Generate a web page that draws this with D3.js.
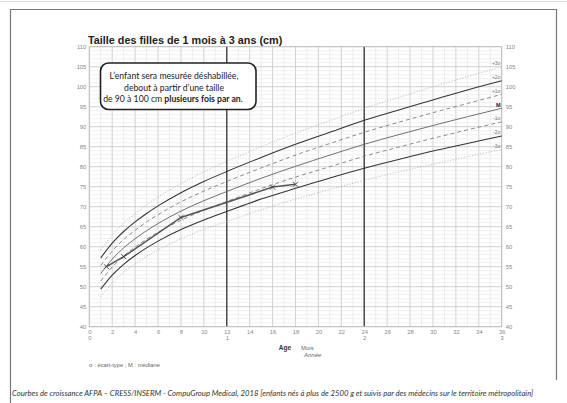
<!DOCTYPE html>
<html><head><meta charset="utf-8">
<script src="https://cdn.jsdelivr.net/npm/d3@7"></script>
<style>
html,body{margin:0;padding:0;background:#fff;}
svg{display:block;}
</style></head>
<body>
<svg id="c" width="567" height="403"></svg>
<script>
// ---- data ----
const months = [1,2,3,4,5,6,8,10,12,15,18,21,24,27,30,33,36];
const plus3 = [59.2,62.9,65.9,68.3,70.5,72.4,75.8,78.7,81.3,85.0,88.4,91.5,94.6,97.3,100.0,102.5,105.0];
const plus2 = [57.2,60.9,63.8,66.2,68.3,70.2,73.5,76.3,78.8,82.3,85.6,88.6,91.6,94.2,96.7,99.2,101.5];
const plus1 = [55.3,58.9,61.8,64.1,66.2,68.0,71.2,73.9,76.3,79.7,82.9,85.8,88.6,91.1,93.5,95.8,98.1];
const median = [53.3,56.9,59.7,62.0,64.0,65.8,68.9,71.5,73.8,77.1,80.1,82.9,85.6,88.0,90.3,92.5,94.6];
const minus1 = [51.4,54.9,57.7,59.9,61.9,63.6,66.6,69.1,71.3,74.5,77.4,80.0,82.6,84.9,87.1,89.2,91.2];
const minus2 = [49.4,52.9,55.6,57.8,59.7,61.4,64.3,66.7,68.8,71.9,74.6,77.2,79.6,81.8,83.9,85.8,87.7];
const minus3 = [47.5,50.9,53.6,55.7,57.6,59.2,62.0,64.3,66.3,69.2,71.9,74.3,76.6,78.7,80.6,82.5,84.3];
const curveLabels = ["+3σ","+2σ","+1σ","M","-1σ","-2σ","-3σ"];
const childMonths = [1.5,3,8,16,18];
const childHeights = [55.0,57.5,67.3,74.9,75.6];
const yTicks = d3.range(40,111,5);
const xTicks = d3.range(0,37,2);
const yearTicks = [0,12,24,36];

const svg = d3.select("#c");
const x = d3.scaleLinear([0,36],[89.3,501.7]);
const y = d3.scaleLinear([40,110],[326.7,46.7]);

// page frame
svg.append("line").attr("x1",0).attr("x2",567).attr("y1",1.5).attr("y2",1.5).attr("stroke","#ddd").attr("stroke-width",1);
svg.append("path").attr("d","M10.5,410 V9.5 H556.5 V380").attr("fill","none").attr("stroke","#777").attr("stroke-width",1.2);

// grid
const g = svg.append("g");
d3.range(0,37,1).filter(m=>m!==12&&m!==24).forEach(m=>{
  let col="#e3e3e3", w=0.6;
  if(m%2===0){col="#c4c4c4"; w=0.8;}
  g.append("line").attr("x1",x(m)).attr("x2",x(m)).attr("y1",y(40)).attr("y2",y(110)).attr("stroke",col).attr("stroke-width",w);
});
d3.range(40,111,1).forEach(v=>{
  let col="#e6e6e6", w=0.6;
  if(v%5===0){col="#c4c4c4"; w=0.8;}
  g.append("line").attr("x1",x(0)).attr("x2",x(36)).attr("y1",y(v)).attr("y2",y(v)).attr("stroke",col).attr("stroke-width",w);
});
[12,24].forEach(m=>{
  g.append("line").attr("x1",x(m)).attr("x2",x(m)).attr("y1",y(40)).attr("y2",y(110)).attr("stroke","#4a4a4a").attr("stroke-width",1.5);
});
g.append("rect").attr("x",x(0)).attr("y",y(110)).attr("width",x(36)-x(0)).attr("height",y(40)-y(110)).attr("fill","none").attr("stroke","#bbb").attr("stroke-width",0.8);

// axes
const tickFont = g => { g.select(".domain").remove(); g.selectAll("text").attr("fill","#888").style("font-family","Liberation Sans, Arial, sans-serif").style("font-size","5.8px"); };
svg.append("g").attr("transform",`translate(${x(0)-1},0)`).call(d3.axisLeft(y).tickValues(yTicks).tickSize(0).tickPadding(2)).call(tickFont);
svg.append("g").attr("transform",`translate(${x(36)+2},0)`).call(d3.axisRight(y).tickValues(yTicks).tickSize(0).tickPadding(2)).call(tickFont);
svg.append("g").attr("transform",`translate(0,${y(40)+1})`).call(d3.axisBottom(x).tickValues(xTicks).tickSize(0).tickPadding(2)).call(tickFont);
svg.append("g").attr("transform",`translate(0,${y(40)+7})`).call(d3.axisBottom(x).tickValues(yearTicks).tickFormat(d=>d/12).tickSize(0).tickPadding(2)).call(tickFont);

// curves
const line = d3.line().x(d=>x(d[0])).y(d=>y(d[1])).curve(d3.curveMonotoneX);
const series = [
  {v:plus3, stroke:"#b0b0b0", w:0.9, dash:"1,1.8"},
  {v:plus2, stroke:"#333", w:1.05, dash:null},
  {v:plus1, stroke:"#808080", w:0.9, dash:"4,3"},
  {v:median, stroke:"#606060", w:0.9, dash:null},
  {v:minus1, stroke:"#808080", w:0.9, dash:"4,3"},
  {v:minus2, stroke:"#333", w:1.05, dash:null},
  {v:minus3, stroke:"#b0b0b0", w:0.9, dash:"1,1.8"}
];
series.forEach((s,i)=>{
  svg.append("path").datum(months.map((m,j)=>[m,s.v[j]])).attr("d",line)
    .attr("fill","none").attr("stroke",s.stroke).attr("stroke-width",s.w).attr("stroke-dasharray",s.dash);
  svg.append("text").attr("x",x(36)-1).attr("y",y(s.v[s.v.length-1])-1.5).attr("text-anchor","end")
    .style("font-family","Liberation Sans, Arial, sans-serif").style("font-size", i===3?"5.5px":"5px")
    .style("font-weight", i===3?"bold":"normal").attr("fill", i===3?"#222":"#777").text(curveLabels[i]);
});

// child data
const child = childMonths.map((m,i)=>[m,childHeights[i]]);
svg.append("path").datum(child).attr("d",d3.line().x(d=>x(d[0])).y(d=>y(d[1])))
  .attr("fill","none").attr("stroke","#555").attr("stroke-width",1.5);
svg.selectAll(".pt").data(child).join("path").attr("class","pt")
  .attr("transform",d=>`translate(${x(d[0])},${y(d[1])})`)
  .attr("d",d3.symbol(d3.symbolTimes,18)).attr("fill","none").attr("stroke","#444").attr("stroke-width",0.9);

// title
svg.append("text").attr("x",88).attr("y",44).style("font-family","Liberation Sans, Arial, sans-serif")
  .style("font-size","10.8px").style("font-weight","bold").attr("fill","#222").text("Taille des filles de 1 mois à 3 ans (cm)");

// note box
svg.append("rect").attr("x",100.5).attr("y",63).attr("width",155.5).attr("height",46.5).attr("rx",8)
  .attr("fill","#fff").attr("stroke","#222").attr("stroke-width",1.6);
const boxFont = "Lato, 'Open Sans', sans-serif";
function fitText(sel, target){ const n=sel.node(); const l=n.getComputedTextLength(); const fs=parseFloat(sel.style("font-size")); sel.style("font-size",(fs*target/l)+"px"); }
const t1 = svg.append("text").attr("x",174).attr("y",79).attr("text-anchor","middle").style("font-family",boxFont).style("font-size","10px").attr("fill","#222").text("L’enfant sera mesurée déshabillée,");
fitText(t1,129);
const t2 = svg.append("text").attr("x",174).attr("y",90.5).attr("text-anchor","middle").style("font-family",boxFont).style("font-size",t1.style("font-size")).attr("fill","#222").text("debout à partir d’une taille");
const t3 = svg.append("text").attr("x",173).attr("y",102).attr("text-anchor","middle").style("font-family",boxFont).style("font-size",t1.style("font-size")).attr("fill","#222");
t3.append("tspan").text("de 90 à 100 cm ");
t3.append("tspan").style("font-weight","bold").text("plusieurs fois par an");
t3.append("tspan").text(".");

// axis title
svg.append("text").attr("x",291).attr("y",350).attr("text-anchor","end").style("font-family","Liberation Sans, Arial, sans-serif").style("font-size","6.5px").style("font-weight","bold").attr("fill","#333").text("Age");
svg.append("text").attr("x",301).attr("y",350).style("font-family","Liberation Sans, Arial, sans-serif").style("font-size","6px").attr("fill","#666").text("Mois");
svg.append("text").attr("x",304).attr("y",356.5).style("font-family","Liberation Sans, Arial, sans-serif").style("font-size","6px").style("font-style","italic").attr("fill","#666").text("Année");

// legend note
svg.append("text").attr("x",89).attr("y",367).style("font-family","Liberation Sans, Arial, sans-serif").style("font-size","5.8px").attr("fill","#666").text("σ : écart-type ; M : médiane");

// footer
const ft = svg.append("text").attr("x",12).attr("y",396).style("font-family",boxFont).style("font-size","8px").style("font-style","italic").attr("fill","#333")
  .text("Courbes de croissance  AFPA – CRESS/INSERM - CompuGroup Medical, 2018 [enfants nés à plus de 2500 g et suivis par des médecins sur le territoire métropolitain]");
fitText(ft,522);
</script>
</body></html>
